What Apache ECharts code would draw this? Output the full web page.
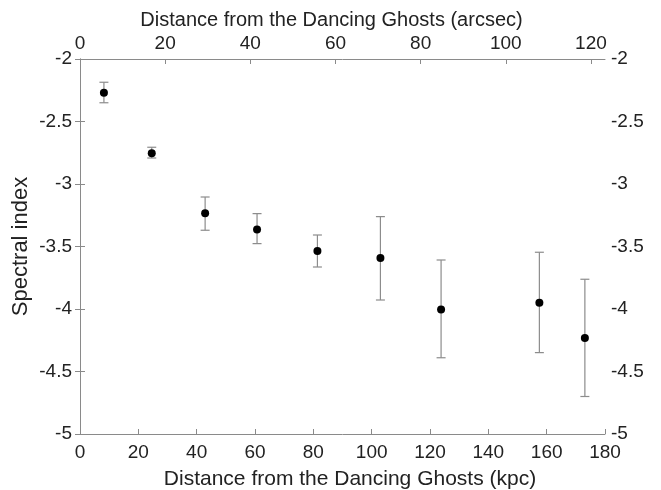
<!DOCTYPE html>
<html>
<head>
<meta charset="utf-8">
<script src="https://cdn.jsdelivr.net/npm/echarts@6/dist/echarts.min.js"></script>
<style>
html,body{margin:0;padding:0;background:#fff;}
#chart{width:661px;height:490px;}
</style>
</head>
<body>
<div id="chart"></div>
<script>
// Distance (kpc), spectral index, and error bar ends
var distanceKpc = [8.2, 24.6, 42.9, 60.7, 81.4, 103.0, 123.8, 157.5, 173.1];
var spectralIndex = [-2.27, -2.754, -3.234, -3.363, -3.536, -3.592, -4.003, -3.949, -4.232];
var errUpper = [-2.186, -2.706, -3.104, -3.237, -3.408, -3.261, -3.608, -3.546, -3.762];
var errLower = [-2.35, -2.792, -3.37, -3.477, -3.664, -3.928, -4.39, -4.349, -4.70];
var xTicksKpc = [0, 20, 40, 60, 80, 100, 120, 140, 160, 180];
var yTicks = [-5, -4.5, -4, -3.5, -3, -2.5, -2];
var arcsecMax = 123.3;

var font = '"Liberation Sans", Arial, sans-serif';
var axisColor = '#8a8a8a';
var textColor = '#222';

var points = distanceKpc.map(function (x, i) { return [x, spectralIndex[i]]; });
var errData = distanceKpc.map(function (x, i) { return [x, errUpper[i], errLower[i]]; });

function axisCommon(extra) {
  var base = {
    nameMoveOverlap: false,
    axisLine: { show: true, lineStyle: { color: axisColor, width: 1 } },
    axisTick: { show: true, inside: true, length: 5, lineStyle: { color: axisColor } },
    splitLine: { show: false },
    axisLabel: { color: textColor, fontSize: 19, fontFamily: font, margin: 8 },
    nameTextStyle: { color: textColor, fontSize: 21, fontFamily: font }
  };
  for (var k in extra) base[k] = extra[k];
  return base;
}

var chart = echarts.init(document.getElementById('chart'));
chart.setOption({
  animation: false,
  backgroundColor: '#fff',
  grid: { left: 80, right: 56, top: 59, bottom: 56, containLabel: false, outerBoundsMode: 'none' },
  xAxis: [
    axisCommon({
      type: 'value', position: 'bottom', min: xTicksKpc[0], max: xTicksKpc[xTicksKpc.length - 1], interval: 20,
      name: 'Distance from the Dancing Ghosts (kpc)', nameLocation: 'middle', nameGap: 35,
      axisLabel: { color: textColor, fontSize: 19, fontFamily: font, margin: 9 },
      nameTextStyle: { color: textColor, fontSize: 21, fontFamily: font, padding: [0, 0, 0, 15] }
    }),
    axisCommon({
      type: 'value', position: 'top', min: 0, max: arcsecMax, interval: 20,
      name: 'Distance from the Dancing Ghosts (arcsec)', nameLocation: 'middle', nameGap: 29,
      nameTextStyle: { color: textColor, fontSize: 20, fontFamily: font, padding: [0, 22, 0, 0] },
      axisLabel: { color: textColor, fontSize: 19, fontFamily: font, margin: 6, showMaxLabel: false,
        formatter: function (v) { return (v % 20 === 0) ? String(v) : ''; } }
    })
  ],
  yAxis: [
    axisCommon({
      type: 'value', position: 'left', min: yTicks[0], max: yTicks[yTicks.length - 1], interval: 0.5,
      name: 'Spectral index', nameLocation: 'middle', nameGap: 48,
      nameTextStyle: { color: textColor, fontSize: 22, fontFamily: font }
    }),
    axisCommon({
      type: 'value', position: 'right', min: yTicks[0], max: yTicks[yTicks.length - 1], interval: 0.5,
      axisLabel: { color: textColor, fontSize: 19, fontFamily: font, margin: 6 }
    })
  ],
  series: [
    {
      type: 'custom',
      xAxisIndex: 0, yAxisIndex: 0,
      data: errData,
      renderItem: function (params, api) {
        var top = api.coord([api.value(0), api.value(1)]);
        var bot = api.coord([api.value(0), api.value(2)]);
        var hw = 4.5;
        var style = { stroke: '#8c8c8c', lineWidth: 1.2 };
        return {
          type: 'group',
          children: [
            { type: 'line', shape: { x1: top[0], y1: top[1], x2: bot[0], y2: bot[1] }, style: style },
            { type: 'line', shape: { x1: top[0] - hw, y1: top[1], x2: top[0] + hw, y2: top[1] }, style: style },
            { type: 'line', shape: { x1: bot[0] - hw, y1: bot[1], x2: bot[0] + hw, y2: bot[1] }, style: style }
          ]
        };
      },
      z: 2
    },
    {
      type: 'scatter',
      xAxisIndex: 0, yAxisIndex: 0,
      data: points,
      symbol: 'circle',
      symbolSize: 8,
      itemStyle: { color: '#000', opacity: 1 },
      z: 3
    }
  ]
});
</script>
</body>
</html>
